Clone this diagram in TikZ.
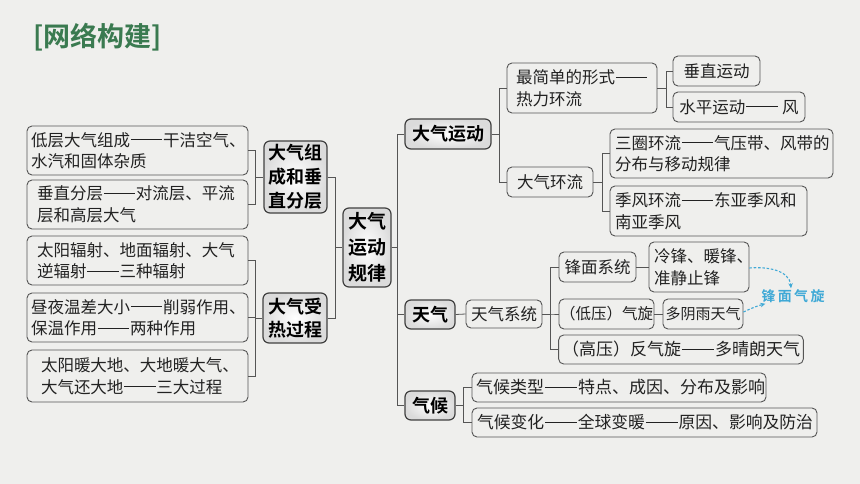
\documentclass[tikz,border=0pt]{standalone}
\usepackage{fontspec}
\setmainfont{Noto Sans CJK SC}[BoldFont={Noto Sans CJK SC Bold}]
\usetikzlibrary{arrows.meta}
\definecolor{paper}{HTML}{EFEFED}
\definecolor{titlegreen}{HTML}{3A7A50}
\definecolor{linegray}{HTML}{555555}
\definecolor{annoblue}{HTML}{3FA9D6}
\definecolor{inkc}{HTML}{222222}
\newcommand{\ldash}{\kern0.05em\rule[0.36em]{1.9em}{0.06em}\kern0.05em\relax}
\tikzset{
  bx/.style={draw=linegray, line width=0.9pt, rounded corners=5pt, fill=paper,
    text=inkc, font=\fontsize{16.5}{21.5}\selectfont, inner ysep=2pt},
  hd/.style={draw=black!75, line width=1.2pt, rounded corners=6pt,
    inner color=white, outer color=black!14, text=black, align=center,
    inner sep=1pt, font=\bfseries\fontsize{18}{24}\selectfont},
  conn/.style={draw=linegray, line width=0.8pt},
  annoarrow/.style={draw=annoblue, line width=1.1pt, dashed, dash pattern=on 2.5pt off 1.8pt, -{Stealth[length=5pt,width=4.5pt]}},
}
\begin{document}
\begin{tikzpicture}[x=1pt,y=-1pt]
\fill[paper] (0,0) rectangle (860,484);
\useasboundingbox (0,0) rectangle (860,484);

\node[anchor=west, text=titlegreen, font=\bfseries\fontsize{27}{30}\selectfont, inner sep=0pt] (title) at (33,37) {[网络构建]};

% left column
\node[bx, minimum width=221, minimum height=49, align=left, inner xsep=4pt, text width=213pt] (l1) at (137.5,150.5) {低层大气组成\ldash 干洁空气、\\水汽和固体杂质};
\node[bx, minimum width=221, minimum height=49, align=left, inner xsep=10pt, text width=201pt] (l2) at (137.5,204.5) {垂直分层\ldash 对流层、平流\\层和高层大气};
\node[bx, minimum width=221, minimum height=49, align=left, inner xsep=10pt, text width=201pt] (l3) at (137.5,260.5) {太阳辐射、地面辐射、大气\\逆辐射\ldash 三种辐射};
\node[bx, minimum width=221, minimum height=49, align=left, inner xsep=4pt, text width=213pt] (l4) at (137.5,317.5) {昼夜温差大小\ldash 削弱作用、\\保温作用\ldash 两种作用};
\node[bx, minimum width=221, minimum height=52, align=left, inner xsep=14pt, text width=193pt] (l5) at (137.5,376) {太阳暖大地、大地暖大气、\\大气还大地\ldash 三大过程};

\node[hd, minimum width=63, minimum height=72] (m1) at (295.5,177) {大气组\\成和垂\\直分层};
\node[hd, minimum width=64, minimum height=50, font=\bfseries\fontsize{18}{23}\selectfont] (m2) at (295,318) {大气受\\热过程};
\node[hd, minimum width=48, minimum height=79, font=\bfseries\fontsize{19}{26}\selectfont] (c) at (367,247.5) {大气\\运动\\规律};

% right: 大气运动
\node[hd, minimum width=86, minimum height=30] (r1) at (448,134) {大气运动};
\node[bx, minimum width=150, minimum height=50, align=left, inner xsep=9pt, text width=132pt] (r11) at (582,88) {最简单的形式\ldash\\热力环流};
\node[bx, minimum width=87, minimum height=30] (r111) at (716.5,71) {垂直运动};
\node[bx, minimum width=132, minimum height=30, inner xsep=2pt] (r112) at (739,107) {水平运动\ldash\ 风};
\node[bx, minimum width=86, minimum height=30] (r12) at (550,182) {大气环流};
\node[bx, minimum width=223, minimum height=49, align=left, inner xsep=5pt, text width=213pt] (r121) at (721.5,153.5) {三圈环流\ldash 气压带、风带的\\分布与移动规律};
\node[bx, minimum width=197, minimum height=50, align=left, inner xsep=5pt, text width=187pt] (r122) at (708.5,211) {季风环流\ldash 东亚季风和\\南亚季风};

% 天气
\node[hd, minimum width=50, minimum height=29] (r2) at (430,314.5) {天气};
\node[bx, minimum width=76, minimum height=28, inner xsep=1pt] (r21) at (504,314) {天气系统};
\node[bx, minimum width=77, minimum height=30, inner xsep=1pt] (r211) at (597.5,267) {锋面系统};
\node[bx, minimum width=100, minimum height=50, align=left, inner xsep=5pt, text width=90pt] (r2111) at (699,267) {冷锋、暖锋、\\准静止锋};
\node[bx, minimum width=95, minimum height=30, inner xsep=0pt, font=\fontsize{15.5}{20}\selectfont] (r212) at (606.5,314) {（低压）气旋};
\node[bx, minimum width=80, minimum height=30, inner xsep=0pt, font=\fontsize{15}{20}\selectfont] (r2121) at (703,314) {多阴雨天气};
\node[bx, minimum width=244, minimum height=29, font=\fontsize{17}{20}\selectfont] (r213) at (681,349.5) {（高压）反气旋\ldash 多晴朗天气};

% 气候
\node[hd, minimum width=50, minimum height=29] (r3) at (430,405.5) {气候};
\node[bx, minimum width=294, minimum height=29, align=left, inner xsep=4pt, text width=286pt, font=\fontsize{17}{20}\selectfont] (r31) at (619,387.5) {气候类型\ldash 特点、成因、分布及影响};
\node[bx, minimum width=345, minimum height=29, align=left, inner xsep=5pt, text width=335pt, font=\fontsize{16.8}{20}\selectfont] (r32) at (644.5,422.5) {气候变化\ldash 全球变暖\ldash 原因、影响及防治};

% annotation
\node[text=annoblue, font=\bfseries\fontsize{14}{16}\selectfont, inner sep=1pt] (fx) at (793,296) {锋\,面\,气\,旋};

% connectors
\foreach \s in {l1,l2} \draw[conn] (\s.east) -- ++(7,0) |- (m1.west);
\foreach \s in {l3,l4,l5} \draw[conn] (\s.east) -- ++(7,0) |- (m2.west);
\foreach \s in {m1,m2} \draw[conn] (\s.east) -- ++(8,0) |- (c.west);
\foreach \t in {r1,r2,r3} \draw[conn] (c.east) -- ++(6,0) |- (\t.west);
\foreach \t in {r11,r12} \draw[conn] (r1.east) -- ++(8,0) |- (\t.west);
\foreach \t in {r111,r112} \draw[conn] (r11.east) -- ++(9,0) |- (\t.west);
\foreach \t in {r121,r122} \draw[conn] (r12.east) -- ++(9,0) |- (\t.west);
\draw[conn] (r2.east) -- (r21.west);
\foreach \t in {r211,r212,r213} \draw[conn] (r21.east) -- ++(8,0) |- (\t.west);
\draw[conn] (r211.east) -- (r2111.west);
\draw[conn] (r212.east) -- (r2121.west);
\foreach \t in {r31,r32} \draw[conn] (r3.east) -- ++(8,0) |- (\t.west);

\draw[annoarrow] ([yshift=-1pt]r2111.east) to[out=5,in=95] ([xshift=-2pt]fx.north);
\draw[annoarrow] ([yshift=2pt]r2121.east) to[out=25,in=195] ([xshift=5pt]fx.south west);
\end{tikzpicture}
\end{document}
